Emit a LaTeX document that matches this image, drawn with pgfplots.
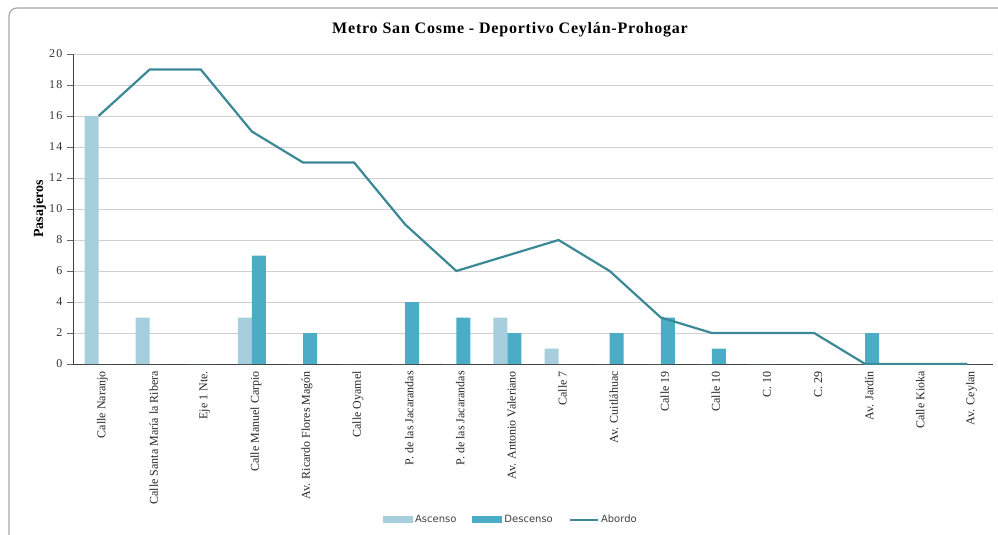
\documentclass[border=0pt]{standalone}
\usepackage{fontspec}
\setmainfont{Liberation Serif}
\newfontfamily\legfont{DejaVu Sans}
\newfontfamily\titlefont[LetterSpace=5]{Liberation Serif}
\newfontfamily\ytickfont[LetterSpace=12]{Liberation Serif}
\usepackage{pgfplots}
\pgfplotsset{compat=1.18}
\definecolor{asc}{HTML}{A6CEDD}
\definecolor{desc}{HTML}{4BACC6}
\definecolor{abo}{HTML}{3B8896}
\definecolor{gridc}{HTML}{D0D0D0}
\begin{document}
\begin{tikzpicture}[x=1pt,y=1pt]
\useasboundingbox (-73,-171) rectangle (925,364);
\draw[gray!70, line width=1.2pt, rounded corners=8pt] (-64,-190) -- (-64,356) -- (945,356);
\node[font=\titlefont\bfseries\fontsize{16}{18}\selectfont] at (437,334) {Metro San Cosme - Deportivo Ceylán-Prohogar};
\begin{axis}[
  at={(0,0)}, anchor=south west,
  scale only axis, width=920pt, height=310pt,
  xmin=-0.5, xmax=17.5, ymin=0, ymax=20,
  ytick={0,2,...,20},
  xtick={0,...,17},
  xticklabels={Calle Naranjo, Calle Santa María la Ribera, Eje 1 Nte., Calle Manuel Carpio, Av. Ricardo Flores Magón, Calle Oyamel, P. de las Jacarandas, P. de las Jacarandas, Av. Antonio Valeriano, Calle 7, Av. Cuitláhuac, Calle 19, Calle 10, C. 10, C. 29, Av. Jardín, Calle Kioka, Av. Ceylan},
  xticklabel style={rotate=90, anchor=east, font=\fontsize{12}{14}\selectfont, text=black!85, inner sep=1pt, yshift=-4pt},
  yticklabel style={font=\ytickfont\fontsize{12}{14}\selectfont, text=black!80, xshift=-1pt},
  /pgf/number format/assume math mode=true,
  axis x line*=bottom, axis y line*=left,
  axis line style={black!75, line width=0.9pt},
  xtick style={draw=none},
  ytick style={black!60, line width=0.6pt},
  tick align=outside, major tick length=6pt,
  ymajorgrids, grid style={gridc, line width=0.8pt},
  ylabel={Pasajeros},
  ylabel style={font=\bfseries\fontsize{14}{16}\selectfont, at={(axis description cs:-0.036,0.5)}, anchor=center},
  legend style={at={(axis description cs:0.476,-0.503)}, anchor=center, draw=none, legend columns=3,
    font=\legfont\fontsize{10}{12}\selectfont, text=black!75,
    /tikz/every even column/.append style={column sep=14pt}},
  legend cell align=left,
]
\addplot[ybar, bar width=14pt, bar shift=-7pt, fill=asc, draw=none,
  legend image code/.code={\fill[asc] (0pt,-3.5pt) rectangle (30pt,3.5pt);}]
  coordinates {(0,16) (1,3) (2,0) (3,3) (4,0) (5,0) (6,0) (7,0) (8,3) (9,1) (10,0) (11,0) (12,0) (13,0) (14,0) (15,0) (16,0) (17,0)};
\addlegendentry{Ascenso}
\addplot[ybar, bar width=14pt, bar shift=7pt, fill=desc, draw=none,
  legend image code/.code={\fill[desc] (0pt,-3.5pt) rectangle (30pt,3.5pt);}]
  coordinates {(0,0) (1,0) (2,0) (3,7) (4,2) (5,0) (6,4) (7,3) (8,2) (9,0) (10,2) (11,3) (12,1) (13,0) (14,0) (15,2) (16,0) (17,0)};
\addlegendentry{Descenso}
\addplot[abo, line width=2.2pt, mark=none,
  legend image code/.code={\draw[abo, line width=2.2pt] (0pt,0pt) -- (28pt,0pt);}]
  coordinates {(0,16) (1,19) (2,19) (3,15) (4,13) (5,13) (6,9) (7,6) (8,7) (9,8) (10,6) (11,3) (12,2) (13,2) (14,2) (15,0) (16,0) (17,0)};
\addlegendentry{Abordo}
\end{axis}
\end{tikzpicture}
\end{document}
